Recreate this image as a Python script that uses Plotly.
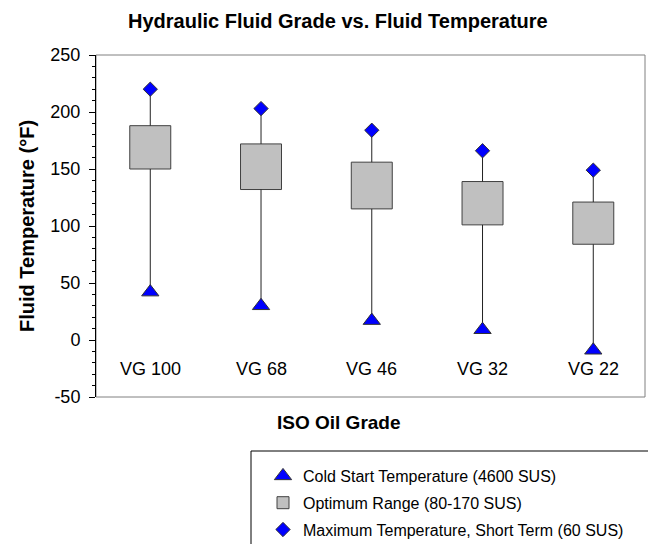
import plotly.graph_objects as go

grades = ["VG 100", "VG 68", "VG 46", "VG 32", "VG 22"]
cold_start = [42, 30, 17, 9, -9]
opt_low = [150, 132, 115, 101, 84]
opt_high = [188, 172, 156, 139, 121]
max_temp = [220, 203, 184, 166, 149]

y_ticks = [-50, 0, 50, 100, 150, 200, 250]
y_tick_labels = ["-50", "0", "50", "100", "150", "200", "250"]

FONT = "Liberation Sans, Arial, sans-serif"
OFF = 8  # page body margin
W, H = 656 - OFF, 544 - OFF
# plot area in page pixels: x 96..645, y 55..397
L = 96 - OFF
T = 55 - OFF
R = W - (645 - OFF)
B = H - (397 - OFF)
pw = W - L - R
ph = H - T - B


def px_x(x):
    return (x - OFF - L) / pw


def px_y(y):
    return (H - B - (y - OFF)) / ph


fig = go.Figure()

# whiskers (split so they don't cross the box)
wx, wy = [], []
for g, c, lo, hi, mx in zip(grades, cold_start, opt_low, opt_high, max_temp):
    wx += [g, g, None, g, g, None]
    wy += [c, lo, None, hi, mx, None]
fig.add_trace(go.Scatter(x=wx, y=wy, mode="lines", line=dict(color="#222222", width=1),
                         showlegend=False, hoverinfo="skip"))

fig.add_trace(go.Scatter(x=grades, y=cold_start, mode="markers",
                         name="Cold Start Temperature (4600 SUS)",
                         legendgroup="a",
                         marker=dict(symbol="triangle-up", size=15, color="#0000FF",
                                     line=dict(color="#333333", width=1))))

fig.add_trace(go.Bar(x=grades, y=[h - l for h, l in zip(opt_high, opt_low)], base=opt_low,
                     width=0.37, name="Optimum Range (80-170 SUS)", legendgroup="b",
                     marker=dict(color="#C0C0C0", line=dict(color="#404040", width=1))))

fig.add_trace(go.Scatter(x=grades, y=max_temp, mode="markers",
                         name="Maximum Temperature, Short Term (60 SUS)",
                         legendgroup="c",
                         marker=dict(symbol="diamond", size=11, color="#0000FF",
                                     line=dict(color="#333333", width=1))))

annotations = []
for g in grades:
    annotations.append(dict(x=g, y=-25, xref="x", yref="y", text=g, showarrow=False,
                            font=dict(family=FONT, size=18, color="black"),
                            xanchor="center", yanchor="middle"))

annotations.append(dict(x=px_x(338), y=px_y(21), xref="paper", yref="paper",
                        text="<b>Hydraulic Fluid Grade vs. Fluid Temperature</b>",
                        showarrow=False, font=dict(family=FONT, size=20, color="black"),
                        xanchor="center", yanchor="middle"))
annotations.append(dict(x=px_x(338.5), y=px_y(422), xref="paper", yref="paper",
                        text="<b>ISO Oil Grade</b>", showarrow=False,
                        font=dict(family=FONT, size=19, color="black"),
                        xanchor="center", yanchor="middle"))
annotations.append(dict(x=px_x(27), y=px_y(226), xref="paper", yref="paper",
                        text="<b>Fluid Temperature (°F)</b>", showarrow=False, textangle=-90,
                        font=dict(family=FONT, size=20, color="black"),
                        xanchor="center", yanchor="middle"))

shapes = [
    dict(type="rect", xref="paper", yref="paper", x0=0, x1=1, y0=0, y1=1,
         line=dict(color="#808080", width=1), layer="below"),
    dict(type="rect", xref="paper", yref="paper", x0=px_x(251), x1=px_x(652),
         y0=px_y(451), y1=px_y(570), line=dict(color="black", width=1)),
]

fig.update_layout(
    width=W, height=H,
    margin=dict(l=L, r=R, t=T, b=B, pad=0, autoexpand=False),
    paper_bgcolor="white", plot_bgcolor="white",
    font=dict(family=FONT, color="black"),
    annotations=annotations,
    shapes=shapes,
    showlegend=True,
    legend=dict(x=px_x(263), y=px_y(459), xanchor="left", yanchor="top",
                font=dict(family=FONT, size=16, color="black"),
                bgcolor="rgba(0,0,0,0)", borderwidth=0, tracegroupgap=3,
                traceorder="grouped"),
    xaxis=dict(type="category", categoryarray=grades, categoryorder="array",
               range=[-0.49, 4.467], showticklabels=False, ticks="", showline=False,
               showgrid=False, zeroline=False, fixedrange=True),
    yaxis=dict(range=[-50, 250], tickvals=y_ticks, ticktext=y_tick_labels,
               ticks="outside", ticklen=6, ticklabelstandoff=5,
               tickcolor="black", showline=True, linecolor="black", linewidth=1,
               minor=dict(dtick=10, ticks="outside", ticklen=3, tickcolor="black"),
               showgrid=False, zeroline=False, tickfont=dict(family=FONT, size=18, color="black")),
)

fig.write_html("out.html")
